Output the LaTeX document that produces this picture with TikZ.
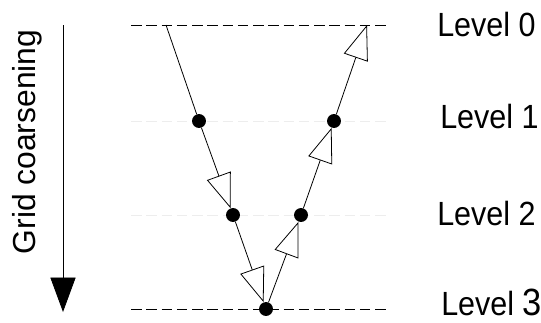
\documentclass[tikz,border=0pt]{standalone}
\usepackage{fontspec}
\setmainfont{Liberation Sans}
\usetikzlibrary{arrows.meta}
\usetikzlibrary{positioning}

\newcommand{\tallText}[1]{\scalebox{1}[1.1]{#1}}

\tikzset{
  dot/.style={circle, fill=black, inner sep=0pt, minimum size=10.5pt},
  flow/.style={line width=0.6pt, -{Triangle[open, length=26pt, width=19pt, line width=0.6pt]}},
  leg/.style={line width=0.6pt},
  levelline/.style={dash pattern=on 8pt off 3.5pt, line width=0.5pt},
  faintline/.style={dash pattern=on 8pt off 3.5pt, line width=0.5pt, black!7},
  lab/.style={anchor=west, inner sep=0pt, font=\fontsize{23}{27}\selectfont}
}

\begin{document}
\begin{tikzpicture}[x=0.0265cm, y=-0.0265cm]
\useasboundingbox (0,0) rectangle (541,322);

%---------------------------------------
% Levels
%---------------------------------------
\draw[levelline]  (131,25)  -- (390,25);
\draw[faintline]  (131,121) -- (390,121);
\draw[faintline]  (131,215) -- (390,215);
\draw[levelline]  (131,309) -- (390,309);

\node[lab] (lev0) at (437,24.5) {\tallText{Level 0}};
\node[lab] (lev1) at (440,117)  {\tallText{Level 1}};
\node[lab] (lev2) at (437,213.5) {\tallText{Level 2}};
\node[lab, anchor=base west] (lev3) at (441,315)
  {\tallText{Level {\fontsize{26}{28}\selectfont 3}}};

%---------------------------------------
% V-cycle
%---------------------------------------
\coordinate (top0) at (166,25);
\coordinate (end0) at (367,25);
\node[dot] (down1) at (199,121) {};
\node[dot] (down2) at (233,215) {};
\node[dot] (bot3)  at (266,309) {};
\node[dot] (up2)   at (301,215) {};
\node[dot] (up1)   at (334,121) {};

\draw[leg]  (top0)  -- (down1);
\draw[flow] (down1) -- (down2);
\draw[flow] (down2) -- (bot3);
\draw[flow] (bot3)  -- (up2);
\draw[flow] (up2)   -- (up1);
\draw[flow] (up1)   -- (end0);

%---------------------------------------
% Coarsening direction
%---------------------------------------
\coordinate (gtop) at (63,25);
\coordinate (gbot) at (63,312);
\draw[line width=0.6pt, -{Triangle[length=26pt, width=19pt]}] (gtop) -- (gbot);
\node[rotate=90, inner sep=0pt, font=\fontsize{24}{28}\selectfont] (gridlab) at (27,142) {Grid coarsening};

\end{tikzpicture}
\end{document}
